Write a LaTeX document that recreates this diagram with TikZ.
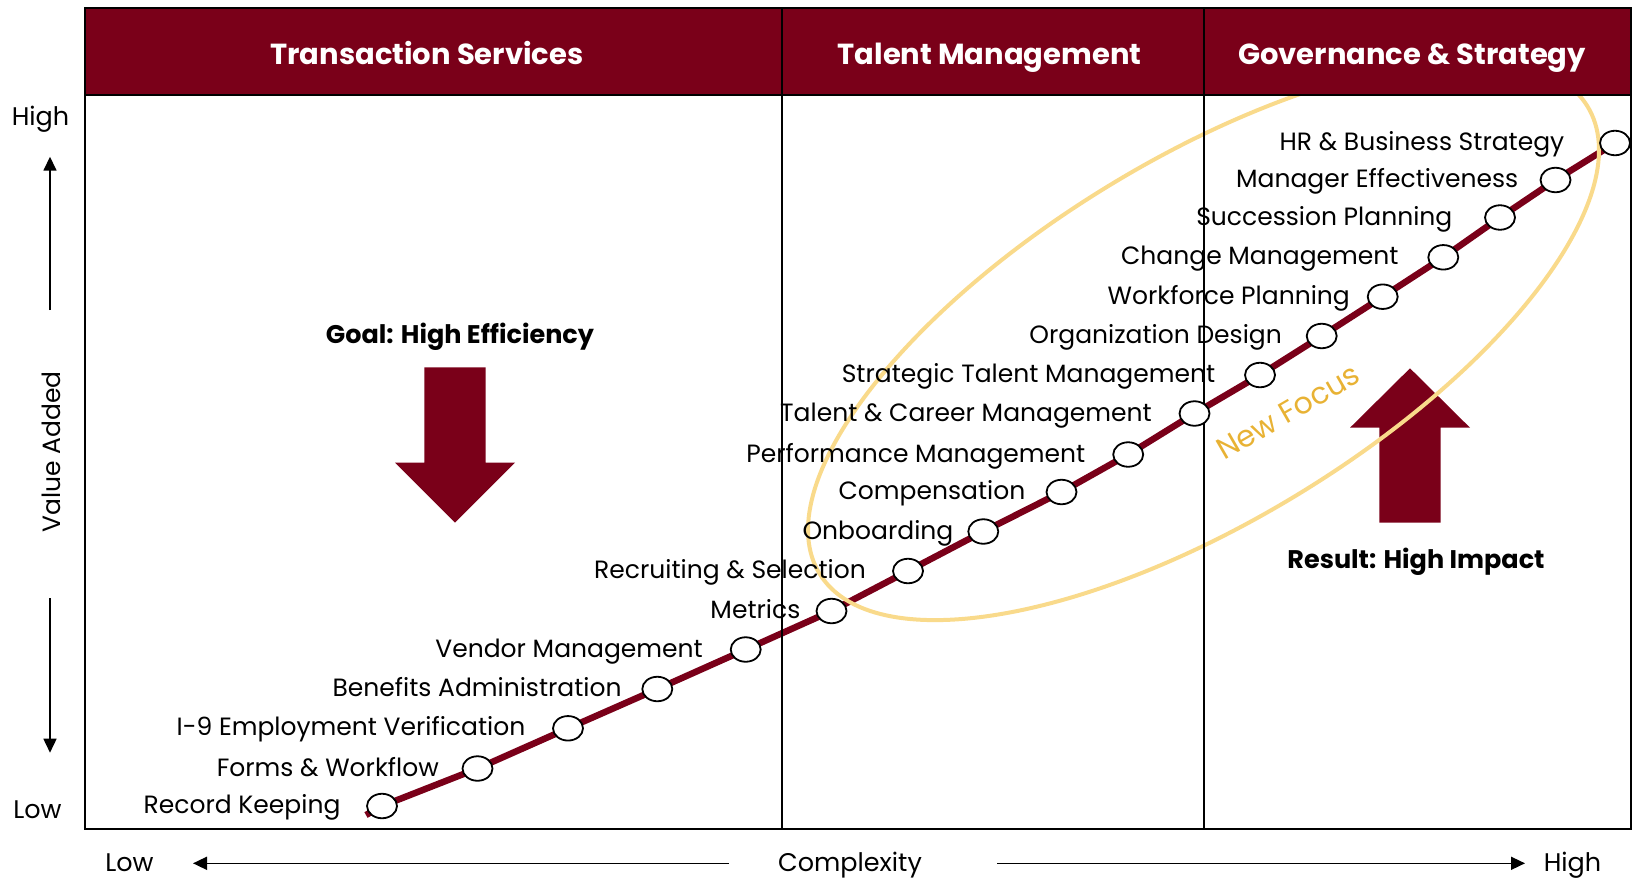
\documentclass[tikz,border=0pt]{standalone}
\usepackage{fontspec}
\setmainfont{Poppins}
\usetikzlibrary{shapes.geometric,arrows.meta}
\definecolor{hrmaroon}{HTML}{7A0019}
\definecolor{focusring}{HTML}{F9DA8B}
\definecolor{focustext}{HTML}{E8B234}
\pgfdeclarelayer{back}
\pgfsetlayers{back,main}
\begin{document}
\begin{tikzpicture}[x=1pt,y=-1pt,
  hdr/.style={anchor=base, text=white, inner sep=0, font=\fontsize{29}{33}\selectfont\bfseries},
  lbl/.style={anchor=base east, inner sep=0, font=\fontsize{25}{30}\selectfont},
  dot/.style={ellipse, draw=black, fill=white, line width=1.8pt, minimum width=30pt, minimum height=24.5pt, inner sep=0},
  axislbl/.style={anchor=base, inner sep=0, font=\fontsize{25.5}{30}\selectfont},
  axisarrow/.style={line width=1.6pt, -{Triangle[length=14pt,width=13pt]}},
  callout/.style={anchor=base, inner sep=0, font=\fontsize{25.5}{30}\selectfont\bfseries},
  rule/.style={line width=2pt}]
\useasboundingbox (0,0) rectangle (1633,879);

% header band
\fill[hrmaroon] (85,8) rectangle (1631,95);

% large block arrows
\fill[hrmaroon] (424.3,367.3) -- (485.7,367.3) -- (485.7,462.7) -- (515,462.7)
  -- (455,522.7) -- (395,462.7) -- (424.3,462.7) -- cycle;
\fill[hrmaroon] (1379.3,522.7) -- (1440.7,522.7) -- (1440.7,427.7) -- (1470,427.7)
  -- (1410,368.3) -- (1350,427.7) -- (1379.3,427.7) -- cycle;

% focus ring, kept below the header band
\begin{scope}
  \clip (85,95) rectangle (1631,829);
  \draw[focusring, line width=4pt, rotate around={31.3:(1203.5,340)}]
    (1203.5,340) ellipse [x radius=449.5pt, y radius=181pt];
\end{scope}

% frame and column rules
\draw[rule] (85,8) rectangle (1631,829);
\draw[rule] (85,95) -- (1631,95);
\draw[rule] (782,8) -- (782,829);
\draw[rule] (1204,8) -- (1204,829);

% column headings
\node[hdr] (h1) at (427,64) {Transaction Services};
\node[hdr] (h2) at (989.5,64) {Talent Management};
\node[hdr] (h3) at (1412,64) {Governance \& Strategy};

% vertical axis
\node[axislbl] (vhigh) at (40.5,125) {High};
\node[axislbl] (vlow) at (37.5,818) {Low};
\node[anchor=base, inner sep=0, rotate=90, font=\fontsize{25}{30}\selectfont] (vtitle) at (60,452) {Value Added};
\coordinate (vup0) at (50,310);
\coordinate (vup1) at (50,156.7);
\coordinate (vdn0) at (50,598);
\coordinate (vdn1) at (50,752.7);
\draw[axisarrow] (vup0) -- (vup1);
\draw[axisarrow] (vdn0) -- (vdn1);

% horizontal axis
\node[axislbl] (hlow) at (129.5,871.7) {Low};
\node[axislbl] (htitle) at (850,871.7) {Complexity};
\node[axislbl] (hhigh) at (1572.5,871.7) {High};
\coordinate (hl0) at (729,863.3);
\coordinate (hl1) at (193,863.3);
\coordinate (hr0) at (997,863.3);
\coordinate (hr1) at (1525,863.3);
\draw[axisarrow] (hl0) -- (hl1);
\draw[axisarrow] (hr0) -- (hr1);

% callouts
\node[callout] (goal) at (460,343.3) {Goal: High Efficiency};
\node[callout] (result) at (1416,568.3) {Result: High Impact};
\node[rotate=30, text=focustext, inner sep=0, font=\fontsize{30}{34}\selectfont] (focus) at (1288,412) {New Focus};

% process steps along the value curve
\coordinate (start) at (366,815);
\node[dot] (n1)  at (382,806) {};
\node[dot] (n2)  at (477.5,768.5) {};
\node[dot] (n3)  at (568,728.3) {};
\node[dot] (n4)  at (657.3,689) {};
\node[dot] (n5)  at (745.7,649.5) {};
\node[dot] (n6)  at (831.5,611) {};
\node[dot] (n7)  at (908,571) {};
\node[dot] (n8)  at (983.3,531.5) {};
\node[dot] (n9)  at (1061.5,492) {};
\node[dot] (n10) at (1128.2,454.5) {};
\node[dot] (n11) at (1194.5,413.5) {};
\node[dot] (n12) at (1260,375) {};
\node[dot] (n13) at (1321.7,336) {};
\node[dot] (n14) at (1382.7,296.7) {};
\node[dot] (n15) at (1443.3,257.3) {};
\node[dot] (n16) at (1500,217.5) {};
\node[dot] (n17) at (1555.5,180) {};
\node[dot] (n18) at (1615,143) {};

\begin{pgfonlayer}{back}
  \draw[hrmaroon, line width=6.5pt, line join=round] (start) -- (n1.center) -- (n2.center)
    -- (n3.center) -- (n4.center) -- (n5.center) -- (n6.center) -- (n7.center)
    -- (n8.center) -- (n9.center) -- (n10.center) -- (n11.center) -- (n12.center)
    -- (n13.center) -- (n14.center) -- (n15.center) -- (n16.center) -- (n17.center)
    -- (n18.center);
\end{pgfonlayer}

\node[lbl] (l1)  at (340.6,813.5) {Record Keeping};
\node[lbl] (l2)  at (439,776) {Forms \& Workflow};
\node[lbl] (l3)  at (525.5,735.8) {I-9 Employment Verification};
\node[lbl] (l4)  at (621.8,696.5) {Benefits Administration};
\node[lbl] (l5)  at (703,657) {Vendor Management};
\node[lbl] (l6)  at (800.5,618.5) {Metrics};
\node[lbl] (l7)  at (866,578.5) {Recruiting \& Selection};
\node[lbl] (l8)  at (953.5,539) {Onboarding};
\node[lbl] (l9)  at (1025.5,499.5) {Compensation};
\node[lbl] (l10) at (1085.5,462) {Performance Management};
\node[lbl] (l11) at (1152,421) {Talent \& Career Management};
\node[lbl] (l12) at (1215.4,382.5) {Strategic Talent Management};
\node[lbl] (l13) at (1282,343.5) {Organization Design};
\node[lbl] (l14) at (1350,304.2) {Workforce Planning};
\node[lbl] (l15) at (1398.7,264.8) {Change Management};
\node[lbl] (l16) at (1452.5,225) {Succession Planning};
\node[lbl] (l17) at (1518.4,187.5) {Manager Effectiveness};
\node[lbl] (l18) at (1564.5,150.5) {HR \& Business Strategy};
\end{tikzpicture}
\end{document}
